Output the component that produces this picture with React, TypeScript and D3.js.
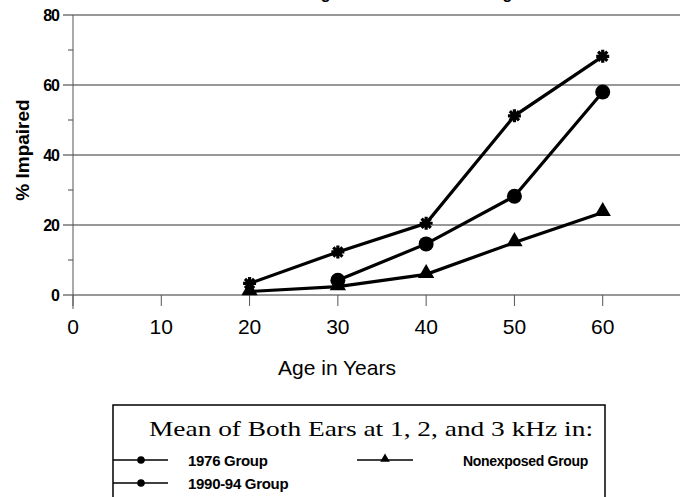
import React from "react";
import * as d3 from "d3";

const ages1976 = [20, 30, 40, 50, 60];
const values1976 = [3.3, 12.3, 20.5, 51.2, 68.2];
const ages1990 = [30, 40, 50, 60];
const values1990 = [4.2, 14.6, 28.2, 58.0];
const agesNonexp = [20, 30, 40, 50, 60];
const valuesNonexp = [1.0, 2.4, 5.9, 15.0, 23.6];
const xTicks = [0, 10, 20, 30, 40, 50, 60];
const yTicks = [0, 20, 40, 60, 80];
const yMinorTicks = [10, 30, 50, 70];
const titleText = "Hearing Loss Increases with Age";
const xLabel = "Age in Years";
const yLabel = "% Impaired";
const legendTitle = "Mean of Both Ears at 1, 2, and 3 kHz in:";
const legendNames = ["1976 Group", "1990-94 Group", "Nonexposed Group"];

const W = 680;
const H = 497;

export default function App() {
  const x = d3.scaleLinear().domain([0, 70]).range([73, 691]);
  const y = d3.scaleLinear().domain([0, 80]).range([295, 15]);
  const line = d3
    .line<[number, number]>()
    .x((d) => x(d[0]))
    .y((d) => y(d[1]));

  const s1976: [number, number][] = ages1976.map((a, i) => [a, values1976[i]]);
  const s1990: [number, number][] = ages1990.map((a, i) => [a, values1990[i]]);
  const sNon: [number, number][] = agesNonexp.map((a, i) => [a, valuesNonexp[i]]);

  const asterisk = (cx: number, cy: number, r: number) => {
    const p = d3.path();
    for (let k = 0; k < 4; k++) {
      const ang = (k * Math.PI) / 4;
      p.moveTo(cx - r * Math.cos(ang), cy - r * Math.sin(ang));
      p.lineTo(cx + r * Math.cos(ang), cy + r * Math.sin(ang));
    }
    return p.toString();
  };
  const tri = d3.symbol().type(d3.symbolTriangle);

  const sans = "Liberation Sans, Arial, sans-serif";
  const serif = "Liberation Serif, Times New Roman, serif";

  return (
    <svg
      width={W}
      height={H}
      style={{ position: "absolute", left: 0, top: 0, background: "#fff" }}
    >
      <rect x={0} y={0} width={W} height={H} fill="#fff" />
      <text x={396} y={-1} textAnchor="middle" fontFamily={sans} fontWeight="bold" fontSize={16} fill="#000">
        {titleText}
      </text>
      {/* gridlines */}
      {yTicks.map((t) => (
        <line key={"g" + t} x1={63} x2={W} y1={y(t)} y2={y(t)} stroke="#333" strokeWidth={1.2} />
      ))}
      {yMinorTicks.map((t) => (
        <line key={"m" + t} x1={68} x2={73} y1={y(t)} y2={y(t)} stroke="#444" strokeWidth={1} />
      ))}
      {/* y axis */}
      <line x1={73} x2={73} y1={y(80)} y2={309} stroke="#555" strokeWidth={1} />
      {xTicks.map((t) => (
        <line key={"xt" + t} x1={x(t)} x2={x(t)} y1={y(0)} y2={306} stroke="#555" strokeWidth={1} />
      ))}
      {yTicks.map((t) => (
        <text
          key={"yl" + t}
          x={59}
          y={y(t) + 6}
          textAnchor="end"
          fontFamily={sans}
          fontWeight="bold"
          fontSize={16}
          letterSpacing={-1}
          fill="#000"
        >
          {t}
        </text>
      ))}
      {xTicks.map((t) => (
        <text key={"xl" + t} x={x(t)} y={334} textAnchor="middle" fontFamily={sans} fontSize={21} fill="#000">
          {t}
        </text>
      ))}
      <text x={337} y={375} textAnchor="middle" fontFamily={sans} fontSize={21} fill="#000">
        {xLabel}
      </text>
      <text
        transform={`translate(29,150) rotate(-90)`}
        textAnchor="middle"
        fontFamily={sans}
        fontWeight="bold"
        fontSize={19}
        fill="#000"
      >
        {yLabel}
      </text>

      {/* series lines */}
      <path d={line(s1976) || ""} fill="none" stroke="#000" strokeWidth={3.2} />
      <path d={line(s1990) || ""} fill="none" stroke="#000" strokeWidth={3.2} />
      <path d={line(sNon) || ""} fill="none" stroke="#000" strokeWidth={3.2} />
      {sNon.map((d, i) => (
        <path key={"t" + i} d={tri.size(115)() || ""} transform={`translate(${x(d[0])},${y(d[1]) - 1})`} fill="#000" />
      ))}
      {s1990.map((d, i) => (
        <circle key={"c" + i} cx={x(d[0])} cy={y(d[1])} r={7.5} fill="#000" />
      ))}
      {s1976.map((d, i) => (
        <path key={"a" + i} d={asterisk(x(d[0]), y(d[1]), 6.5)} stroke="#000" strokeWidth={3.2} fill="none" />
      ))}

      {/* legend */}
      <rect x={113} y={405} width={492} height={100} fill="#fff" stroke="#000" strokeWidth={1.5} />
      <text
        x={149}
        y={436}
        fontFamily={serif}
        fontSize={22}
        textLength={444}
        lengthAdjust="spacingAndGlyphs"
        fill="#000"
      >
        {legendTitle}
      </text>
      <line x1={113} x2={168} y1={460} y2={460} stroke="#000" strokeWidth={1.5} />
      <circle cx={141} cy={460} r={3.8} fill="#000" />
      <text x={188} y={466} fontFamily={sans} fontWeight="bold" fontSize={15} letterSpacing={-0.3} fill="#000">
        {legendNames[0]}
      </text>
      <line x1={113} x2={168} y1={483} y2={483} stroke="#000" strokeWidth={1.5} />
      <circle cx={141} cy={483} r={3.8} fill="#000" />
      <text x={188} y={489} fontFamily={sans} fontWeight="bold" fontSize={15} letterSpacing={-0.3} fill="#000">
        {legendNames[1]}
      </text>
      <line x1={357} x2={413} y1={460} y2={460} stroke="#000" strokeWidth={1.5} />
      <path d={tri.size(40)() || ""} transform={`translate(385,459)`} fill="#000" />
      <text x={463} y={466} fontFamily={sans} fontWeight="bold" fontSize={14} letterSpacing={-0.3} fill="#000">
        {legendNames[2]}
      </text>
    </svg>
  );
}
